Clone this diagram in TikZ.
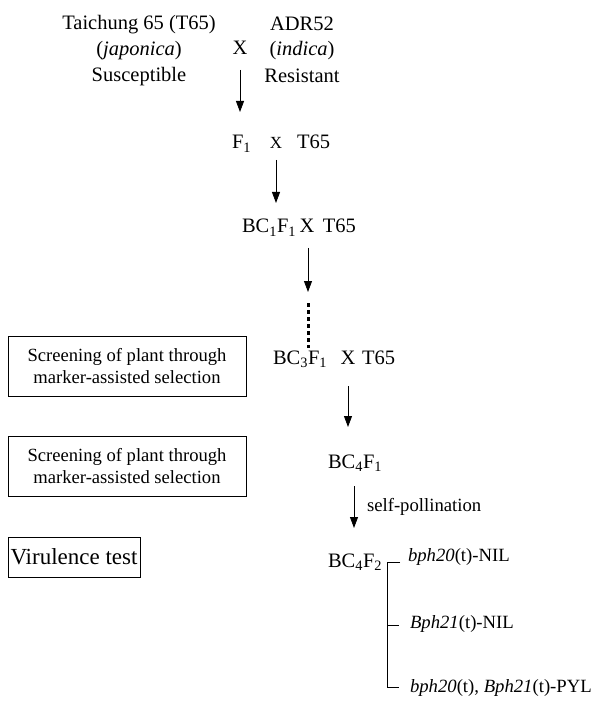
\documentclass[tikz,border=0pt]{standalone}
\usepackage{fontspec}
\setmainfont{Liberation Serif}
\usetikzlibrary{arrows.meta}
\begin{document}
\begin{tikzpicture}[x=1pt,y=-1pt,
  every node/.style={inner sep=0pt, outer sep=0pt},
  big/.style={font=\fontsize{20.5}{26}\selectfont},
  mid/.style={font=\fontsize{17}{20}\selectfont},
  small/.style={font=\fontsize{18.7}{22}\selectfont},
  arr/.style={line width=0.8pt, -{Triangle[length=11pt,width=8pt]}},
  dotline/.style={line width=3pt, dash pattern=on 4pt off 3pt},
  thinline/.style={line width=0.8pt},
  boxstyle/.style={draw, line width=0.8pt, align=center, font=\fontsize{18.6}{22}\selectfont, minimum width=238pt, minimum height=60pt}
]
\useasboundingbox (0,0) rectangle (593,708);

% parents
\node[big, anchor=base] (p1a) at (139,30) {Taichung 65 (T65)};
\node[big, anchor=base] (p1b) at (139,56) {(\textit{japonica})};
\node[big, anchor=base] (p1c) at (139,82) {Susceptible};
\node[big, anchor=base] (p2a) at (302,31) {ADR52};
\node[big, anchor=base] (p2b) at (302,56) {(\textit{indica})};
\node[big, anchor=base] (p2c) at (302,83) {Resistant};
\node[big, anchor=base] (x1) at (240,55) {X};

% F1
\node[big, anchor=base west] (f1) at (232,149) {F\textsubscript{1}};
\node[mid, anchor=base] (x2) at (276,149) {X};
\node[big, anchor=base west] (t2) at (297,149) {T65};

% BC1F1
\node[big, anchor=base west] (bc1) at (242,233) {BC\textsubscript{1}F\textsubscript{1}\,X\, T65};

% BC3F1
\node[big, anchor=base west] (bc3) at (273,364) {BC\textsubscript{3}F\textsubscript{1}};
\node[big, anchor=base] (x3) at (348,364) {X};
\node[big, anchor=base west] (t3) at (362,364) {T65};

% BC4
\node[big, anchor=base west] (bc4a) at (328,468) {BC\textsubscript{4}F\textsubscript{1}};
\node[small, anchor=base west] (sp) at (367,511) {self-pollination};
\node[big, anchor=base west] (bc4b) at (328,567) {BC\textsubscript{4}F\textsubscript{2}};

% lines
\node[small, anchor=base west] (l1) at (408,561) {\textit{bph20}(t)-NIL};
\node[small, anchor=base west] (l2) at (410,628) {\textit{Bph21}(t)-NIL};
\node[small, anchor=base west] (l3) at (410,692) {\textit{bph20}(t), \textit{Bph21}(t)-PYL};

% boxes
\node[boxstyle] (s1) at (127,366) {Screening of plant through\\marker-assisted selection};
\node[boxstyle] (s2) at (127,466.5) {Screening of plant through\\marker-assisted selection};
\node[draw, line width=0.8pt, font=\fontsize{23}{26}\selectfont, minimum width=132pt, minimum height=40pt] (vt) at (74,557) {Virulence test};

% arrows
\draw[arr] ([yshift=-15pt]x1.base) -- +(0,42);
\draw[arr] ([yshift=-11pt]x2.base) -- +(0,43);
\draw[arr] ([shift={(66pt,-15pt)}]bc1.base west) -- +(0,44);
\draw[dotline] ([shift={(35pt,61pt)}]bc3.base west) -- +(0,45);
\draw[arr] ([yshift=-22pt]x3.base) -- +(0,41);
\draw[arr] ([shift={(26pt,-18pt)}]bc4a.base west) -- +(0,42);

% bracket
\draw[thinline] ([shift={(-8pt,-1pt)}]l1.base west) -| ([shift={(-23pt,5pt)}]l3.base west) -- ([shift={(-11pt,5pt)}]l3.base west);
\draw[thinline] ([shift={(-23pt,3pt)}]l2.base west) -- ([shift={(-11pt,3pt)}]l2.base west);
\end{tikzpicture}
\end{document}
